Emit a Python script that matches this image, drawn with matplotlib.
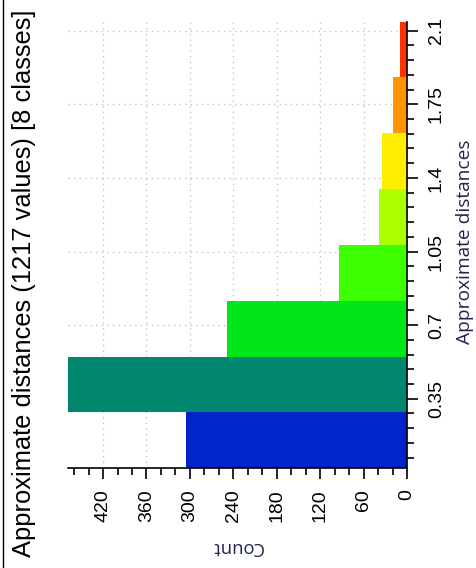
import matplotlib
matplotlib.use("Agg")
import matplotlib.pyplot as plt
from matplotlib.ticker import MultipleLocator, FixedLocator
from matplotlib.lines import Line2D

# Histogram classes of approximate distances (equal-width bins)
bin_edges = [0.019, 0.285, 0.550, 0.816, 1.081, 1.347, 1.612, 1.878, 2.143]
counts = [305, 468, 249, 94, 38, 34, 19, 10]
class_colors = ["#0024cc", "#00876e", "#00e61a", "#3cff00",
                "#aaff00", "#ffee00", "#ff9400", "#ff3300"]
dist_ticks = [0.35, 0.7, 1.05, 1.4, 1.75, 2.1]
dist_labels = ["0.35", "0.7", "1.05", "1.4", "1.75", "2.1"]
count_ticks = [0, 60, 120, 180, 240, 300, 360, 420]

title = "Approximate distances (1217 values) [8 classes]"

W, H = 476, 568
fig = plt.figure(figsize=(W / 100, H / 100), dpi=100)
fig.patch.set_facecolor("white")

# Plot area in pixel coordinates (the chart is laid out sideways)
left_px, right_px, top_px, bottom_px = 68.3, 407.0, 21.7, 468.3
ax = fig.add_axes([left_px / W, 1 - bottom_px / H,
                   (right_px - left_px) / W, (bottom_px - top_px) / H])

heights = [b - a for a, b in zip(bin_edges[:-1], bin_edges[1:])]
ax.barh(bin_edges[:-1], counts, height=heights, align="edge",
        color=class_colors, edgecolor="none", zorder=2)

ax.set_xlim(max(counts), 0)
ax.set_ylim(bin_edges[0], bin_edges[-1])

for side in ("top", "left"):
    ax.spines[side].set_visible(False)
for side in ("bottom", "right"):
    ax.spines[side].set_color("black")
    ax.spines[side].set_linewidth(1.2)
    ax.spines[side].set_zorder(3)

ax.yaxis.tick_right()
ax.xaxis.tick_bottom()

ax.xaxis.set_major_locator(FixedLocator(count_ticks))
ax.xaxis.set_minor_locator(MultipleLocator(20))
ax.yaxis.set_major_locator(FixedLocator(dist_ticks))
ax.yaxis.set_minor_locator(MultipleLocator(0.07))

ax.tick_params(which="major", length=8, width=1.2, color="black")
ax.tick_params(which="minor", length=5, width=1.2, color="black")
ax.tick_params(axis="x", which="major", pad=7)
ax.tick_params(axis="y", which="major", pad=7)

tick_font = dict(family="Liberation Sans", size=14)
ax.set_xticklabels([str(t) for t in count_ticks], rotation=90, **tick_font)
ax.set_yticklabels(dist_labels, rotation=90, va="center", **tick_font)

ax.grid(True, which="major", linestyle=(0, (1, 3)), color="#c4c4c4",
        linewidth=1.0, zorder=0)
ax.set_axisbelow(True)

# Axis titles and chart title, rotated with the layout
fig.text(24 / W, 1 - 283 / H, title, rotation=90, ha="center", va="center",
         family="Liberation Sans", size=18.4, color="black")
fig.text(465 / W, 1 - 242 / H, "Approximate distances", rotation=90,
         ha="center", va="center", family="Open Sans", size=13.8,
         color="#1e2450")
fig.text(237 / W, 1 - 547 / H, "Count", rotation=180, ha="center",
         va="center", family="Open Sans", size=13.2, color="#1e2450")

fig.add_artist(Line2D([2.7 / W, 2.7 / W], [0, 1], color="black",
                      linewidth=1.0, transform=fig.transFigure))

fig.savefig("out.png", dpi=100)
